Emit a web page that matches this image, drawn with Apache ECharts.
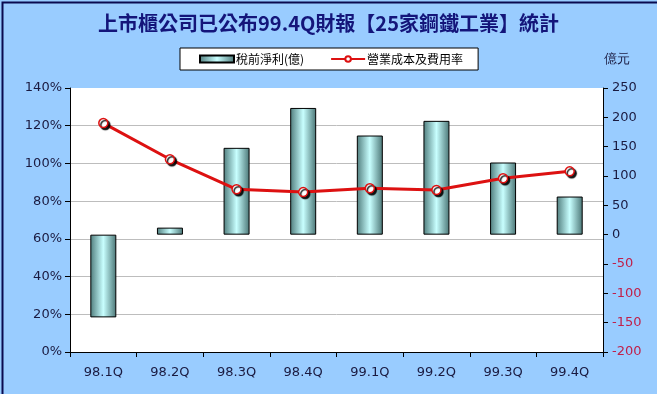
<!DOCTYPE html>
<html><head><meta charset="utf-8">
<script src="https://cdn.jsdelivr.net/npm/echarts@6/dist/echarts.min.js"></script>
<style>html,body{margin:0;padding:0;background:#99ccff}#c{width:657px;height:394px}</style>
</head><body><div id="c"></div>
<script>
const categories = ['98.1Q','98.2Q','98.3Q','98.4Q','99.1Q','99.2Q','99.3Q','99.4Q'];
const profit = [-141, 12, 148, 216, 169, 194, 123, 65];
const costRate = [121.4, 102.2, 86.3, 84.8, 86.8, 85.9, 92.1, 95.8];
const titleText = '上市櫃公司已公布99.4Q財報【25家鋼鐵工業】統計';
const seriesNames = ['稅前淨利(億)', '營業成本及費用率'];
const unitText = '億元';

const chart = echarts.init(document.getElementById('c'));
const font = 'Tahoma, "DejaVu Sans", "Noto Sans CJK TC", sans-serif';
const labelColor = '#1a1a40';
const g = '#bdbdbd';
chart.setOption({
  backgroundColor: '#99ccff',
  animation: false,
  title: {
    text: titleText, left: 'center', top: 8,
    textStyle: {fontSize: 20, fontWeight: 'bold', color: '#14157a', fontFamily: '"Noto Sans CJK TC", sans-serif'}
  },
  legend: {
    data: [{name: seriesNames[0], icon: 'rect'}, {name: seriesNames[1]}],
    left: 180, top: 48,
    backgroundColor: '#fff', borderColor: '#000', borderWidth: 1,
    padding: [5, 15, 5, 19], itemGap: 26, itemWidth: 34, itemHeight: 7,
    textStyle: {fontSize: 12, color: '#000', fontFamily: '"Noto Sans CJK TC", sans-serif', padding: [0, 0, 0, -3]}
  },
  graphic: [
    {type: 'text', left: 604, top: 53, style: {text: unitText, fontSize: 13, fill: labelColor, font: '13px "Noto Sans CJK TC", sans-serif'}},
    {type: 'rect', left: 0, top: 0, shape: {width: 656, height: 393}, style: {fill: 'none', stroke: '#0a0a50', lineWidth: 2}, silent: true}
  ],
  grid: {left: 70, right: 54, top: 88, bottom: 42, show: true, backgroundColor: '#fff', borderWidth: 0},
  xAxis: {
    type: 'category', data: categories,
    axisLine: {lineStyle: {color: '#000', width: 1}},
    axisTick: {show: true, length: 5, lineStyle: {color: '#000'}},
    axisLabel: {fontSize: 13, color: labelColor, margin: 14, fontFamily: font}
  },
  yAxis: [
    {
      type: 'value', min: 0, max: 140, interval: 20, position: 'left',
      axisLine: {show: true, lineStyle: {color: '#000'}},
      axisTick: {show: true, length: 5, lineStyle: {color: '#000'}},
      axisLabel: {formatter: '{value}%', fontSize: 13, color: labelColor, margin: 8, fontFamily: font},
      splitLine: {lineStyle: {color: [g, g, g, g, g, g, g, 'rgba(0,0,0,0)'], width: 1}}
    },
    {
      type: 'value', min: -200, max: 250, interval: 50, position: 'right',
      axisLine: {show: true, lineStyle: {color: '#000'}},
      axisTick: {show: true, length: 5, lineStyle: {color: '#000'}},
      axisLabel: {fontSize: 13, margin: 9, fontFamily: font,
        color: function (v) { return Number(v) < 0 ? '#c0204a' : labelColor; }},
      splitLine: {show: false}
    }
  ],
  series: [
    {
      name: seriesNames[0], type: 'bar', yAxisIndex: 1, data: profit, barWidth: 26,
      itemStyle: {
        borderColor: '#000', borderWidth: 1,
        color: new echarts.graphic.LinearGradient(0, 0, 1, 0, [
          {offset: 0, color: '#4f7c7c'}, {offset: 0.5, color: '#c8ffff'}, {offset: 1, color: '#4a7575'}
        ])
      }
    },
    {
      name: seriesNames[1], type: 'line', yAxisIndex: 0, data: costRate,
      symbol: 'circle', symbolSize: 9,
      lineStyle: {color: '#dd1111', width: 3},
      itemStyle: {color: '#fff', borderColor: '#dd1111', borderWidth: 1.5,
        shadowColor: 'rgba(0,0,0,0.9)', shadowOffsetX: 2, shadowOffsetY: 2, shadowBlur: 1}
    }
  ]
});
</script></body></html>
